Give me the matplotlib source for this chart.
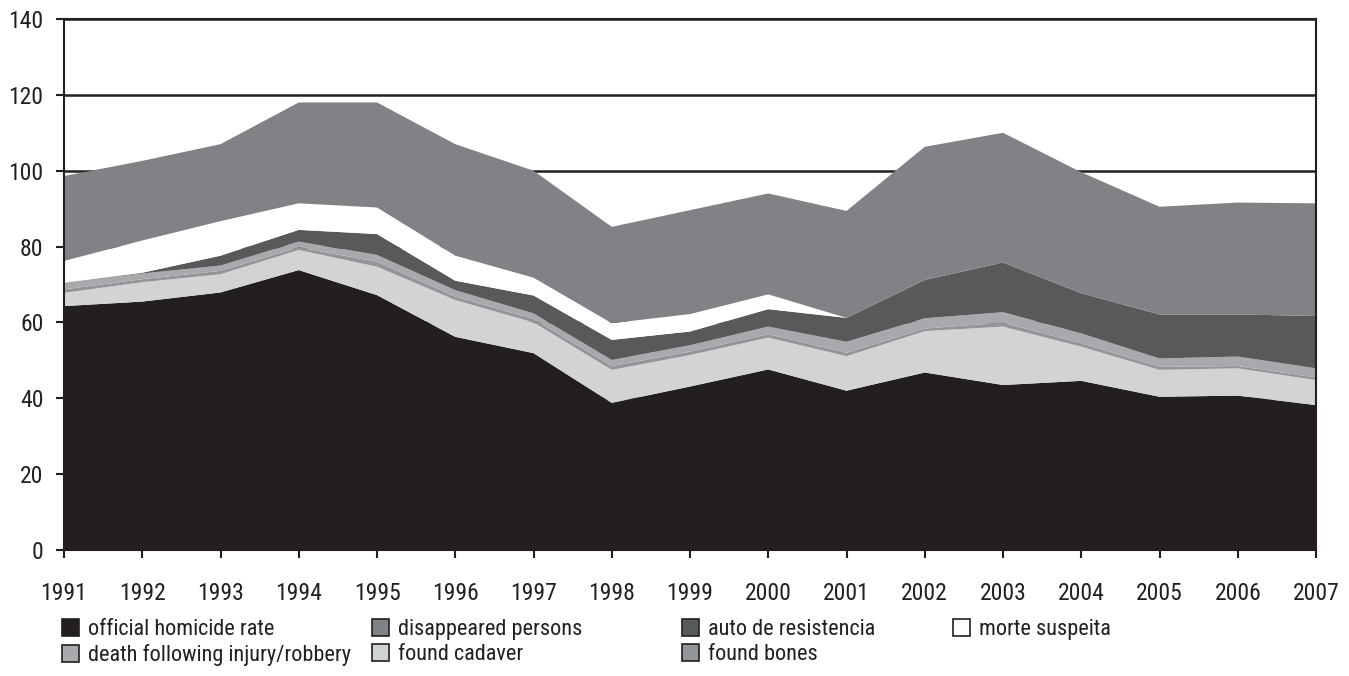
import matplotlib
matplotlib.use("Agg")
import matplotlib.pyplot as plt
from matplotlib import font_manager
from matplotlib.patches import Patch

# the reference uses a condensed grotesque; take the narrowest installed face
names = {f.name for f in font_manager.fontManager.ttflist}
if "Liberation Sans Narrow" in names:
    plt.rcParams["font.family"] = ["Liberation Sans Narrow", "DejaVu Sans"]
elif "Roboto Condensed" in names:
    plt.rcParams["font.family"] = ["Roboto Condensed", "DejaVu Sans"]
else:
    plt.rcParams["font.family"] = ["DejaVu Sans"]
    plt.rcParams["font.stretch"] = "condensed"

years = list(range(1991, 2008))

official = [64.3, 65.5, 67.9, 73.8, 67.2, 56.2, 51.9, 38.8, 43.1, 47.6, 42.0, 46.8, 43.5, 44.6, 40.4, 40.7, 38.2]
found_cadaver = [3.5, 5.1, 4.8, 5.3, 7.5, 9.7, 8.1, 8.7, 8.3, 8.4, 9.1, 10.9, 15.4, 9.0, 7.1, 7.2, 6.6]
found_bones = [0.9, 0.8, 0.9, 0.7, 1.3, 0.9, 0.9, 1.0, 0.9, 0.9, 0.9, 0.7, 1.0, 0.9, 0.8, 0.6, 0.7]
death_injury = [1.8, 1.5, 1.4, 1.5, 1.8, 1.7, 1.5, 1.6, 1.7, 2.0, 2.9, 2.7, 2.8, 2.6, 2.2, 2.5, 2.4]
auto_resistencia = [0.0, 0.2, 2.6, 3.1, 5.5, 2.5, 4.7, 5.3, 3.6, 4.6, 6.3, 10.1, 13.1, 10.6, 11.6, 11.1, 13.8]
morte_suspeita = [5.7, 8.5, 9.1, 7.0, 7.0, 6.6, 4.7, 4.4, 4.6, 3.9, 0.0, 0.0, 0.0, 0.0, 0.0, 0.0, 0.0]
disappeared = [22.4, 21.0, 20.3, 26.6, 27.7, 29.4, 28.2, 25.4, 27.4, 26.6, 28.2, 35.1, 34.2, 31.9, 28.4, 29.5, 29.7]

# stacking order, bottom to top
series = [
    ("official homicide rate", official, "#231f20"),
    ("found cadaver", found_cadaver, "#d1d3d4"),
    ("found bones", found_bones, "#939598"),
    ("death following injury/robbery", death_injury, "#a7a9ac"),
    ("auto de resistencia", auto_resistencia, "#58595b"),
    ("morte suspeita", morte_suspeita, "#ffffff"),
    ("disappeared persons", disappeared, "#808285"),
]
colors = {name: c for name, _, c in series}

W, H = 1349, 676
fig = plt.figure(figsize=(W / 100, H / 100), dpi=100)
ax = fig.add_axes([64 / W, 1 - 550 / H, (1316 - 64) / W, (550 - 19) / H])

ax.stackplot(years, *[vals for _, vals, _ in series],
             colors=[c for _, _, c in series], linewidth=0, zorder=2)

ax.set_xlim(1991, 2007)
ax.set_ylim(0, 140)
ax.set_xticks(years)
ax.set_yticks(range(0, 141, 20))
ax.yaxis.grid(True, color="#231f20", linewidth=1.8)
ax.set_axisbelow(True)
for sp in ax.spines.values():
    sp.set_color("#231f20")
    sp.set_linewidth(1.5)
    sp.set_zorder(5)
ax.tick_params(axis="both", direction="out", length=5.8, width=1.5, color="#231f20",
               labelsize=17, labelcolor="#231f20")
ax.tick_params(axis="x", pad=17)
ax.tick_params(axis="y", pad=9)

# legend: two rows, four columns laid out by hand (x of the swatch, in pixels)
legend_cols = [
    (["official homicide rate", "death following injury/robbery"], 62),
    (["disappeared persons", "found cadaver"], 372),
    (["auto de resistencia", "found bones"], 682),
    (["morte suspeita"], 953),
]
for labels, x0 in legend_cols:
    handles = [Patch(facecolor=colors[n], edgecolor="#231f20", linewidth=1.2, label=n) for n in labels]
    fig.legend(handles=handles, loc="upper left", bbox_to_anchor=(x0 / W, 1 - 619 / H),
               frameon=False, fontsize=16, handlelength=0.77, handleheight=0.77,
               handletextpad=0.4, labelspacing=0.2, borderpad=0, borderaxespad=0,
               labelcolor="#231f20")

fig.savefig("out.png", dpi=100)
